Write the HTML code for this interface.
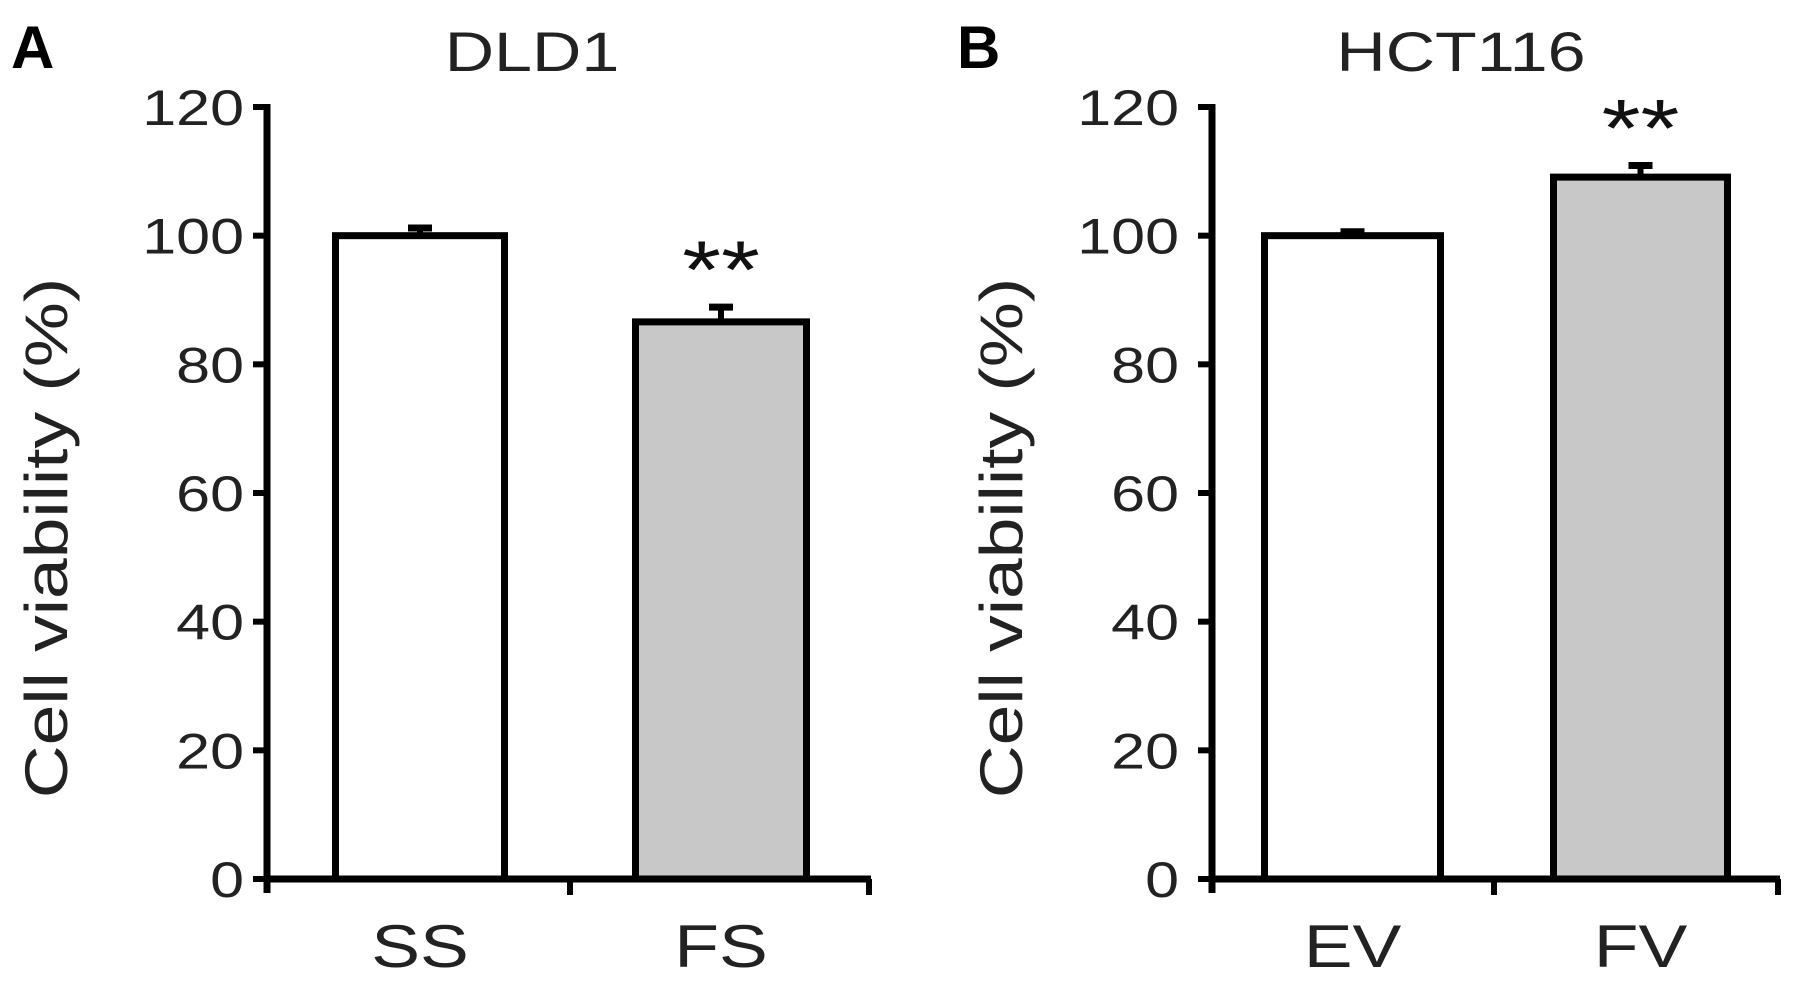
<!DOCTYPE html>
<html><head><meta charset="utf-8"><style>
html,body{margin:0;padding:0;background:#fff;}
svg{display:block;font-family:"Liberation Sans",Arial,sans-serif;}
</style></head><body>
<svg id="chart" width="1795" height="985" viewBox="0 0 1795 985"></svg>
<script>
const panelLetters = ["A", "B"];
const panelTitles = ["DLD1", "HCT116"];
const categoriesA = ["SS", "FS"];
const valuesA = [100, 86.6];
const errorsA = [1.2, 2.3];
const sigA = ["", "**"];
const categoriesB = ["EV", "FV"];
const valuesB = [100, 109.1];
const errorsB = [0.6, 1.8];
const sigB = ["", "**"];
const yTicks = [0, 20, 40, 60, 80, 100, 120];
const fills = ["#ffffff", "#c8c8c8"];

const NS = "http://www.w3.org/2000/svg";
const svg = document.getElementById("chart");
function mk(tag, attrs, parent) {
  const e = document.createElementNS(NS, tag);
  for (const k in attrs) e.setAttribute(k, attrs[k]);
  (parent || svg).appendChild(e);
  return e;
}
const SX = 1.22;
function txt(parent, x, y, size, anchor, str, extra) {
  const t = mk("text", Object.assign({x: 0, y: 0, "font-size": size, "text-anchor": anchor, fill: "#222",
    transform: "translate(" + x + "," + y + ") scale(" + SX + ",1)"}, extra || {}), parent);
  t.textContent = str;
  return t;
}
const y0 = 879, y120 = 107;
function yScale(v) { return y0 - (v / 120) * (y0 - y120); }

const panels = [
  {ax: 267, xEnd: 871, mid: 570, bars: [[332, 508], [632, 810]], cats: categoriesA, vals: valuesA, errs: errorsA, sig: sigA, letterX: 11, titleX: 532, ylabX: 46, tickR: 244},
  {ax: 1212, xEnd: 1780, mid: 1494, bars: [[1261, 1444], [1550, 1731]], cats: categoriesB, vals: valuesB, errs: errorsB, sig: sigB, letterX: 957, titleX: 1461, ylabX: 1001, tickR: 1179}
];

panels.forEach((p, pi) => {
  const g = mk("g", {});
  
  
  const letter = mk("text", {x: p.letterX, y: 68, "font-size": 60, "font-weight": "bold", fill: "#000"}, g);
  letter.textContent = panelLetters[pi];
  
  
  const title = txt(g, p.titleX, 71, 56, "middle", panelTitles[pi]);
  
  
  const yl = mk("text", {x: 0, y: 0, "font-size": 60, "text-anchor": "middle", fill: "#222",
    transform: "translate(" + (p.ylabX + 21) + ",538) rotate(-90) scale(1.22,1)"}, g);
  yl.textContent = "Cell viability (%)";
  
  
  p.vals.forEach((v, i) => {
    const [x1, x2] = p.bars[i];
    const cx = (x1 + x2) / 2;
    const ey = yScale(v + p.errs[i]);
    const eb = mk("line", {x1: cx, x2: cx, y1: yScale(v), y2: ey, stroke: "#000", "stroke-width": 6}, g);
    
    
    const cap = mk("line", {x1: cx - 12, x2: cx + 12, y1: ey, y2: ey, stroke: "#000", "stroke-width": 7}, g);
    
    
    const r = mk("rect", {x: x1 + 3.5, y: yScale(v), width: x2 - x1 - 7, height: y0 - yScale(v), fill: fills[i], stroke: "#000", "stroke-width": 7}, g);
    
    
    if (p.sig[i]) {
      const s = txt(g, cx, ey - 9, 82, "middle", p.sig[i], {fill: "#111"});
      
      
    }
    const xl = txt(g, cx, 967, 60, "middle", p.cats[i]);
    
    
  });
  const ya = mk("line", {x1: p.ax, x2: p.ax, y1: y120 - 3, y2: y0 + 14, stroke: "#000", "stroke-width": 7}, g);
  
  
  const xa = mk("line", {x1: p.ax, x2: p.xEnd, y1: y0, y2: y0, stroke: "#000", "stroke-width": 7}, g);
  
  
  [p.mid, p.xEnd - 2].forEach(tx => {
    const t = mk("line", {x1: tx, x2: tx, y1: y0, y2: y0 + 16, stroke: "#000", "stroke-width": 6}, g);
    
    
  });
  yTicks.forEach(v => {
    const yy = yScale(v);
    const t = mk("line", {x1: p.ax - 14, x2: p.ax, y1: yy, y2: yy, stroke: "#000", "stroke-width": 6}, g);
    
    
    const l = txt(g, p.tickR, yy + 18, 50, "end", String(v));
    
    
  });
});
</script>
</body></html>
